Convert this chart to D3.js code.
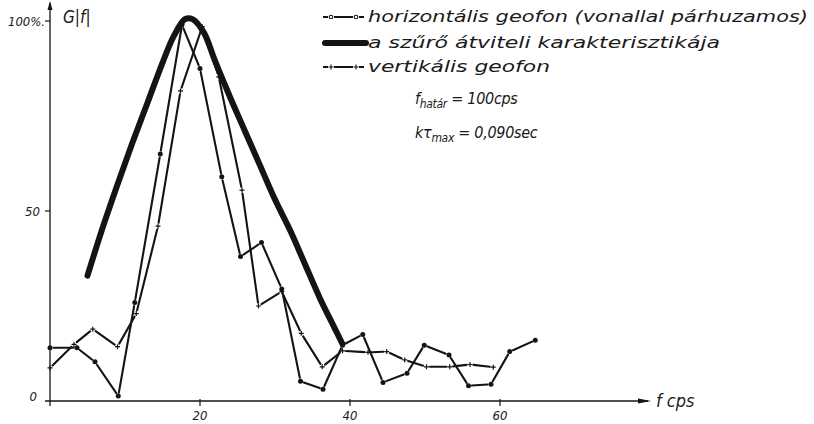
<!DOCTYPE html>
<html>
<head>
<meta charset="utf-8">
<script src="https://cdn.jsdelivr.net/npm/d3@7"></script>
<style>
	html, body { margin: 0; padding: 0; background: #fff; }
	svg { display: block; }
	text { font-family: "DejaVu Sans Condensed", "DejaVu Sans", sans-serif; font-style: italic; fill: #1a1a1a; }
</style>
</head>
<body>
<div id="chart"></div>
<script>
// szűrő átviteli karakterisztika (thick curve)
const filterFreq = [5, 7, 9, 11, 13, 15, 16.5, 18, 19, 20.5, 22, 24, 26, 28, 30, 32, 34, 36, 38, 39];
const filterVal  = [33, 45.5, 57, 68, 78.5, 89, 96, 100.5, 100.5, 97, 89.5, 80, 71, 62, 53, 45, 36, 27, 19, 15];

// horizontális geofon (dots)
const horizFreq = [0, 3.6, 6, 9.1, 11.3, 14.7, 17.6, 20, 22.9, 25.4, 28.2, 30.9, 33.4, 36.4, 39, 41.7, 44.4, 47.6, 49.9, 53.2, 55.8, 58.8, 61.3, 64.7];
const horizVal  = [14, 14, 10.3, 1.3, 25.9, 65, 99, 87.5, 59, 38, 41.7, 29.5, 5.2, 3.1, 14.7, 17.5, 4.9, 7.3, 14.7, 12.1, 4, 4.4, 13, 16];

// vertikális geofon (crosses)
const vertFreq = [0, 3.2, 5.7, 9, 11.5, 14.4, 17.4, 20.3, 22.5, 25.6, 27.8, 30.9, 33.5, 36.3, 39, 42.4, 44.9, 47.3, 50.2, 53.3, 56, 59.1];
const vertVal  = [8.7, 14.9, 18.9, 14.3, 23, 46, 81.6, 98.5, 85.3, 55.5, 25, 28.8, 17.8, 9, 13.2, 12.8, 13, 10.8, 9, 9, 9.6, 8.9];

const xTicks = [20, 40, 60];
const yTicks = [0, 50, 100];
const yTickLabels = ["0", "50", "100%."];

const legendLabels = [
	"horizontális geofon (vonallal párhuzamos)",
	"a szűrő átviteli karakterisztikája",
	"vertikális geofon"
];

const width = 814, height = 424;
const ink = "#141414";

const svg = d3.select("#chart").append("svg")
	.attr("width", width)
	.attr("height", height);

const x = d3.scaleLinear().domain([0, 60]).range([50, 500]);
const y = d3.scaleLinear().domain([0, 100]).range([401, 21]);

const zip = (a, b) => a.map((d, i) => [d, b[i]]);

// axes
const axes = svg.append("g").attr("stroke", ink).attr("fill", "none");
axes.append("line")
	.attr("x1", x(0)).attr("x2", x(0))
	.attr("y1", y(0) + 5).attr("y2", 3)
	.attr("stroke-width", 1.3);
axes.append("path")
	.attr("d", `M${x(0)},1 L${x(0) - 2.5},10 L${x(0) + 2.5},10 Z`)
	.attr("fill", ink).attr("stroke", "none");
axes.append("line")
	.attr("x1", x(0) - 5).attr("x2", 648)
	.attr("y1", y(0)).attr("y2", y(0))
	.attr("stroke-width", 1.3);
axes.append("path")
	.attr("d", `M651,${y(0)} L638,${y(0) - 2.5} L638,${y(0) + 2.5} Z`)
	.attr("fill", ink).attr("stroke", "none");

axes.selectAll(".xt").data(xTicks).join("line")
	.attr("x1", d => x(d)).attr("x2", d => x(d))
	.attr("y1", y(0) - 2).attr("y2", y(0) + 5)
	.attr("stroke-width", 1.2);
axes.selectAll(".yt").data(yTicks.slice(1)).join("line")
	.attr("x1", x(0) - 5).attr("x2", x(0))
	.attr("y1", d => y(d)).attr("y2", d => y(d))
	.attr("stroke-width", 1.2);

svg.selectAll(".xl").data(xTicks).join("text")
	.attr("x", d => x(d))
	.attr("y", y(0) + 19)
	.attr("text-anchor", "middle")
	.attr("font-size", 13)
	.text(d => d);

svg.selectAll(".yl").data(yTicks).join("text")
	.attr("x", (d, i) => i === 2 ? x(0) - 5 : i === 1 ? x(0) - 10 : x(0) - 13)
	.attr("y", (d, i) => i === 0 ? y(d) : y(d) + 5)
	.attr("text-anchor", "end")
	.attr("font-size", 13)
	.attr("textLength", (d, i) => i === 2 ? 37 : null)
	.text((d, i) => yTickLabels[i]);

svg.append("text")
	.attr("x", 63).attr("y", 23)
	.attr("font-size", 17)
	.text("G|f|");

svg.append("text")
	.attr("x", 656).attr("y", 407)
	.attr("font-size", 18)
	.text("f cps");

// filter curve
svg.append("path")
	.datum(zip(filterFreq, filterVal))
	.attr("fill", "none")
	.attr("stroke", ink)
	.attr("stroke-width", 6)
	.attr("stroke-linecap", "round")
	.attr("stroke-linejoin", "round")
	.attr("d", d3.line().x(d => x(d[0])).y(d => y(d[1])).curve(d3.curveCatmullRom));

// broken polyline: gaps around each point
function gapped(g, pts, gap) {
	const segs = d3.pairs(pts.map(p => [x(p[0]), y(p[1])])).map(([a, b]) => {
		const dx = b[0] - a[0], dy = b[1] - a[1], len = Math.hypot(dx, dy);
		const ux = dx / len, uy = dy / len;
		return [a[0] + ux * gap, a[1] + uy * gap, b[0] - ux * gap, b[1] - uy * gap];
	});
	g.selectAll("line.seg").data(segs).join("line")
		.attr("class", "seg")
		.attr("x1", d => d[0]).attr("y1", d => d[1])
		.attr("x2", d => d[2]).attr("y2", d => d[3])
		.attr("stroke", ink)
		.attr("stroke-width", 2.1)
		.attr("stroke-linecap", "round");
}

const hPts = zip(horizFreq, horizVal);
const hG = svg.append("g");
gapped(hG, hPts, 3.5);
hG.selectAll("circle").data(hPts).join("circle")
	.attr("cx", d => x(d[0])).attr("cy", d => y(d[1]))
	.attr("r", 2.5)
	.attr("fill", ink);

const vPts = zip(vertFreq, vertVal);
const vG = svg.append("g");
gapped(vG, vPts, 3.5);
vG.selectAll("path").data(vPts).join("path")
	.attr("d", d => `M${x(d[0]) - 2.5},${y(d[1])}h5M${x(d[0])},${y(d[1]) - 2.5}v5`)
	.attr("stroke", ink)
	.attr("stroke-width", 1.2);

// legend
const leg = svg.append("g");
const rowY = [17, 43, 67];
const lx0 = 323, lx1 = 364;

// row 1: -o--o-
leg.append("path")
	.attr("d", `M${lx0},${rowY[0]}h5M${lx0 + 11},${rowY[0]}h19M${lx1 - 5},${rowY[0]}h5`)
	.attr("stroke", ink).attr("stroke-width", 2);
leg.selectAll(".lc").data([lx0 + 8, lx1 - 8]).join("circle")
	.attr("cx", d => d).attr("cy", rowY[0]).attr("r", 1.8)
	.attr("fill", "none").attr("stroke", ink).attr("stroke-width", 1.1);

// row 2: thick
leg.append("line")
	.attr("x1", lx0 + 2).attr("x2", lx1 + 2)
	.attr("y1", rowY[1]).attr("y2", rowY[1])
	.attr("stroke", ink).attr("stroke-width", 6).attr("stroke-linecap", "round");

// row 3: -+--+-
leg.append("path")
	.attr("d", `M${lx0},${rowY[2]}h5M${lx0 + 11},${rowY[2]}h19M${lx1 - 5},${rowY[2]}h5`)
	.attr("stroke", ink).attr("stroke-width", 2);
leg.selectAll(".lp").data([lx0 + 8, lx1 - 8]).join("path")
	.attr("d", d => `M${d - 2.5},${rowY[2]}h5M${d},${rowY[2] - 2.5}v5`)
	.attr("stroke", ink).attr("stroke-width", 1.1);

const textLen = [440, 352, 182];
leg.selectAll(".lt").data(legendLabels).join("text")
	.attr("x", 368)
	.attr("y", (d, i) => rowY[i] + 5)
	.attr("font-size", 15)
	.attr("textLength", (d, i) => textLen[i])
	.attr("lengthAdjust", "spacingAndGlyphs")
	.text(d => d);

// parameters
const p1 = leg.append("text").attr("x", 415).attr("y", 104).attr("font-size", 16)
	.attr("letter-spacing", -0.3);
p1.append("tspan").text("f");
p1.append("tspan").attr("font-size", 12).attr("dy", 4).text("határ");
p1.append("tspan").attr("dy", -4).text(" = 100cps");

const p2 = leg.append("text").attr("x", 415).attr("y", 138).attr("font-size", 16)
	.attr("letter-spacing", -0.3);
p2.append("tspan").text("kτ");
p2.append("tspan").attr("font-size", 12).attr("dy", 4).text("max");
p2.append("tspan").attr("dy", -4).text(" = 0,090sec");
</script>
</body>
</html>
